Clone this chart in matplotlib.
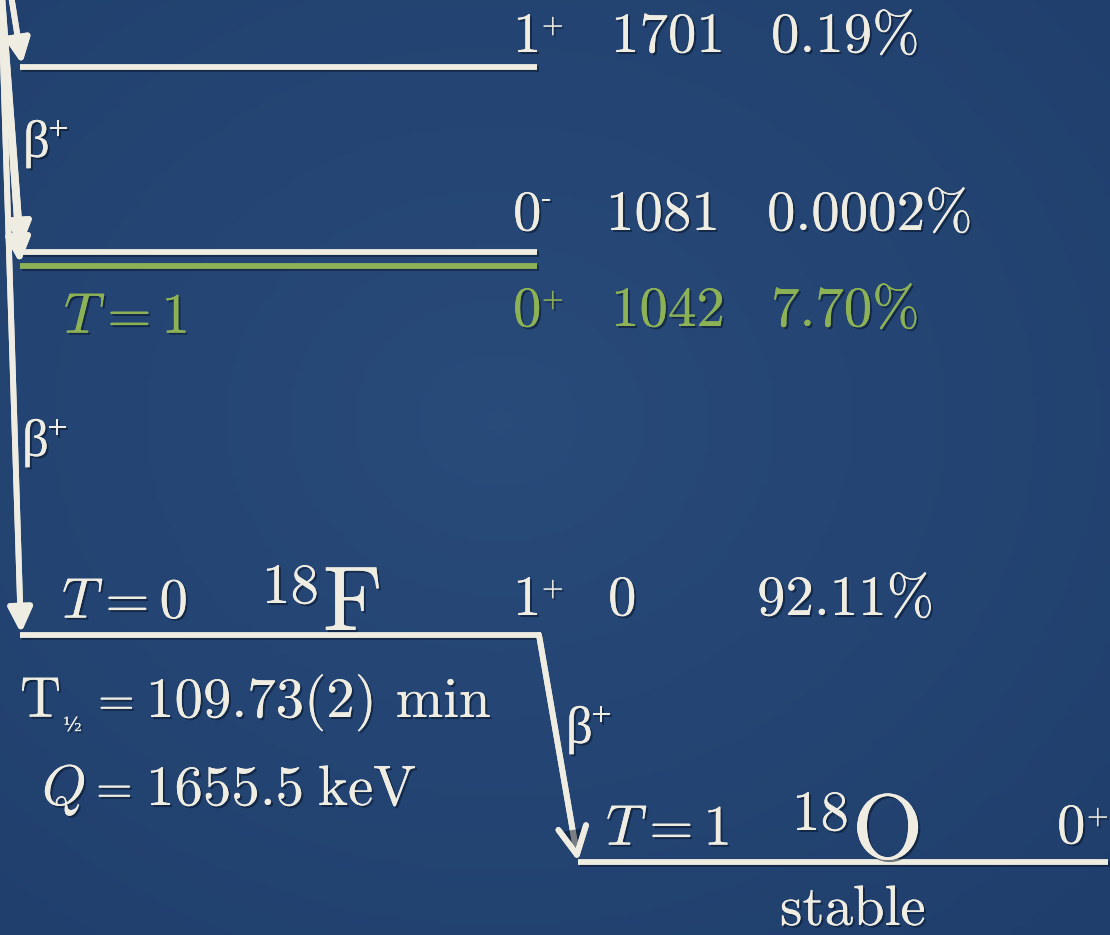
import numpy as np
import matplotlib.pyplot as plt
import matplotlib.patheffects as pe
from matplotlib.patches import FancyArrowPatch

plt.rcParams['mathtext.fontset'] = 'cm'

CREAM = "#EFECE2"
GREEN = "#8DB256"

# 18F levels fed by beta+ decay of 18Ne
spins = ["1", "0", "0", "1"]
parities = ["+", "-", "+", "+"]
energies = ["1701", "1081", "1042", "0"]
branches = ["0.19%", "0.0002%", "7.70%", "92.11%"]
level_colors = [CREAM, CREAM, GREEN, CREAM]

# schematic layout of the diagram (canvas units, y pointing down)
level_y = [67, 252, 265.5, 635]
label_y = [52, 230, 326, 615]
energy_x = [611, 606, 611, 608]
branch_x = [771, 767, 771, 757]
arrow_tip = [(22, 64), (21, 247), (20, 263), (21, 633)]
arrow_top = [(11, -5), (2, -5), (1, -5), (1, -5)]

# 18F -> 18O ground state decay
o18_y = 862
f18_right = 541
o18_left, o18_right = 578, 1108

fig = plt.figure(figsize=(11.1, 9.35), dpi=100)
ax = fig.add_axes([0, 0, 1, 1])
ax.set_xlim(0, 1110)
ax.set_ylim(935, 0)
ax.axis("off")

# dark blue backdrop, a touch darker towards the corners
yy, xx = np.mgrid[0:1:200j, 0:1:240j]
r = np.sqrt((xx - 0.45) ** 2 + (yy - 0.45) ** 2)
c0 = np.array([0.160, 0.295, 0.480])
c1 = np.array([0.125, 0.245, 0.425])
t = np.clip(r / 0.75, 0, 1)[..., None]
bg = c0 * (1 - t) + c1 * t
ax.imshow(bg, extent=[0, 1110, 935, 0], aspect="auto", zorder=0)

shadow_txt = [pe.withSimplePatchShadow(offset=(1.5, -1.5), shadow_rgbFace="#081426", alpha=0.55), pe.Normal()]
shadow_ln = [pe.SimpleLineShadow(offset=(1.5, -1.5), shadow_color="#081426", alpha=0.5), pe.Normal()]
shadow_arr = [pe.withSimplePatchShadow(offset=(1.5, -1.5), shadow_rgbFace="#081426", alpha=0.5), pe.Normal()]

LW = 4.2


def put(x, y, s, size=41, color=CREAM, family="cmr10"):
    ax.text(x, y, s, fontsize=size, color=color, family=family,
            ha="left", va="baseline", path_effects=shadow_txt, zorder=5)


def sup(x, y, s, color=CREAM):
    put(x, y, s, size=20, color=color)


# levels of 18F
for i in range(len(energies)):
    right = f18_right if i == len(energies) - 1 else 537
    ax.plot([20, right], [level_y[i], level_y[i]], color=level_colors[i],
            lw=LW, solid_capstyle="butt", path_effects=shadow_ln, zorder=3)
    col = level_colors[i]
    put(513, label_y[i], spins[i], color=col)
    sup(542, label_y[i] - 19 if parities[i] == "+" else label_y[i] - 24, parities[i], color=col)
    put(energy_x[i], label_y[i], energies[i], color=col)
    put(branch_x[i], label_y[i], branches[i], color=col)

# feeding arrows from above
for (x0, y0), (x1, y1) in zip(arrow_top, arrow_tip):
    arr = FancyArrowPatch((x0, y0), (x1, y1), arrowstyle="-|>,head_length=0.62,head_width=0.3",
                          mutation_scale=24, color=CREAM, lw=LW, shrinkA=0, shrinkB=0,
                          path_effects=shadow_arr, zorder=4)
    ax.add_patch(arr)

# beta+ labels
for bx, by in [(23, 157), (22, 456), (566, 743)]:
    put(bx, by, "β", size=38, family="Liberation Serif")
    put(bx + 25, by - 17, "+", size=26, family="Liberation Serif")

# isospin labels
put(64, 333, r"$T = 1$", color=GREEN)
put(62, 618, r"$T = 0$")
put(606, 845, r"$T = 1$")

# nuclide symbols
put(262, 603, "18")
put(323, 630, "F", size=66)
put(792, 830, "18")
put(852, 858, "O", size=66)

# half-life and Q value
put(20, 717, r"$\mathrm{T}$")
put(63, 731, "½", size=14, family="DejaVu Serif")
put(98, 715, "=", size=34)
put(146, 717, "109.73(2) min")
put(42, 805, r"$Q$")
put(96, 803, "=", size=34)
put(146, 805, "1655.5")
put(318, 805, "keV")

# 18O ground state
ax.plot([o18_left, o18_right], [o18_y, o18_y], color=CREAM, lw=LW,
        solid_capstyle="butt", path_effects=shadow_ln, zorder=3)
put(1057, 843, "0")
sup(1087, 824, "+")
put(780, 925, "stable")

# decay to 18O
decay = FancyArrowPatch((f18_right - 2, level_y[-1]), (o18_left, o18_y - 1),
                        arrowstyle="->,head_length=0.55,head_width=0.28", mutation_scale=36,
                        color=CREAM, lw=LW, shrinkA=0, shrinkB=0,
                        path_effects=shadow_arr, zorder=4)
ax.add_patch(decay)

fig.savefig("out.png", dpi=100)
